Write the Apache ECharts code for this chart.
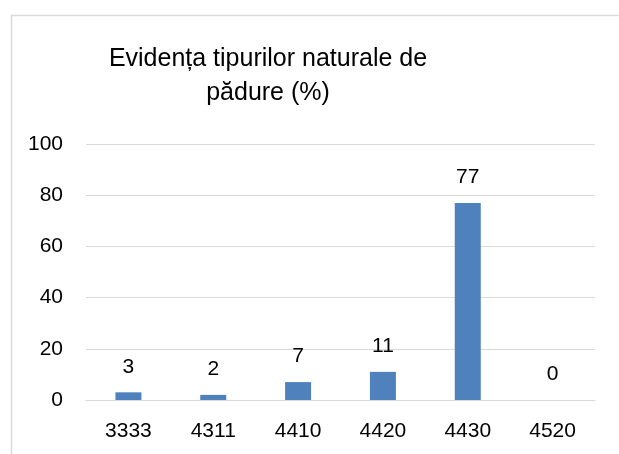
<!DOCTYPE html>
<html>
<head>
<meta charset="utf-8">
<script src="https://cdn.jsdelivr.net/npm/echarts@6/dist/echarts.min.js"></script>
<style>
  html, body { margin: 0; padding: 0; background: #fff; }
  #chart { width: 619px; height: 454px; }
</style>
</head>
<body>
<div id="chart"></div>
<script>
let categories = ["3333", "4311", "4410", "4420", "4430", "4520"]
let values = [3, 2, 7, 11, 77, 0]
let titleLines = ["Evidența tipurilor naturale de", "pădure (%)"]

let font = "Liberation Sans"
let chart = echarts.init(document.getElementById("chart"))

let option = {
	animation: false,
	title: {
		text: titleLines.join("\n"),
		left: 263,
		top: 37,
		textAlign: "center",
		textStyle: {
			fontFamily: font,
			fontSize: 25,
			fontWeight: "normal",
			color: "#000",
			lineHeight: 34
		}
	},
	graphic: [{
		type: "rect",
		left: 9,
		top: 13,
		shape: {width: 700, height: 500},
		style: {fill: null, stroke: "#d9d9d9", lineWidth: 1.5},
		silent: true
	}],
	grid: {
		left: 86,
		right: 24,
		top: 144,
		bottom: 54
	},
	xAxis: {
		type: "category",
		data: categories,
		axisLine: {lineStyle: {color: "#d9d9d9"}},
		axisTick: {show: false},
		axisLabel: {
			fontFamily: font,
			fontSize: 21,
			color: "#000",
			margin: 21
		}
	},
	yAxis: {
		type: "value",
		min: 0,
		max: 100,
		interval: 20,
		axisLine: {show: false},
		axisTick: {show: false},
		splitLine: {lineStyle: {color: "#d9d9d9", width: 1}},
		axisLabel: {
			fontFamily: font,
			fontSize: 21,
			color: "#000",
			margin: 23
		}
	},
	series: [{
		type: "bar",
		data: values,
		barWidth: 26,
		itemStyle: {color: "#4f81bd"},
		label: {
			show: true,
			position: "top",
			distance: 15,
			fontFamily: font,
			fontSize: 21,
			color: "#000"
		}
	}]
}
chart.setOption(option)
window.onresize = chart.resize
</script>
</body>
</html>
